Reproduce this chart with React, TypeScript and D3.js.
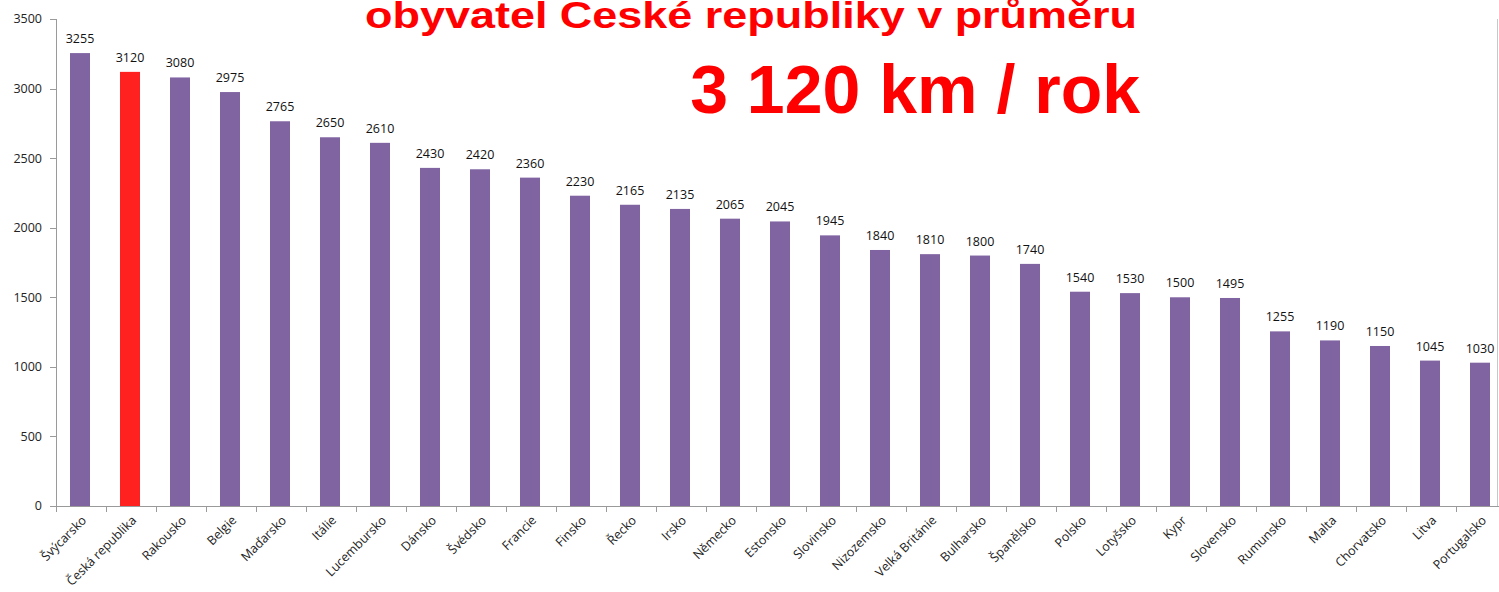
import React from "react";
import * as d3 from "d3";

const categories = [
  "Švýcarsko", "Česká republika", "Rakousko", "Belgie", "Maďarsko", "Itálie",
  "Lucembursko", "Dánsko", "Švédsko", "Francie", "Finsko", "Řecko", "Irsko",
  "Německo", "Estonsko", "Slovinsko", "Nizozemsko", "Velká Británie", "Bulharsko",
  "Španělsko", "Polsko", "Lotyšsko", "Kypr", "Slovensko", "Rumunsko", "Malta",
  "Chorvatsko", "Litva", "Portugalsko",
];
const values = [
  3255, 3120, 3080, 2975, 2765, 2650, 2610, 2430, 2420, 2360, 2230, 2165, 2135,
  2065, 2045, 1945, 1840, 1810, 1800, 1740, 1540, 1530, 1500, 1495, 1255, 1190,
  1150, 1045, 1030,
];
const highlight = "Česká republika";
const yTicks = [0, 500, 1000, 1500, 2000, 2500, 3000, 3500];
const titleLine1 = "obyvatel České republiky v průměru";
const titleLine2 = "3 120 km / rok";

const W = 1499;
const H = 592;
const x0 = 56;
const x1 = 1506;
const yBottom = 506;
const yTop = 19;

export default function App() {
  const x = d3.scaleBand<string>().domain(categories).range([x0, x1]).paddingInner(0.6).paddingOuter(0.3);
  const y = d3.scaleLinear().domain([0, 3500]).range([yBottom, yTop]);
  const step = x.step();
  const axisColor = "#9a9a9a";
  const font = "'Open Sans', 'DejaVu Sans', sans-serif";

  return (
    <svg width={W} height={H} style={{ position: "absolute", left: 0, top: 0, background: "#fff" }}>
      {/* Title */}
      <text x={365} y={28} fill="#ff0000" fontFamily="'Liberation Sans', Arial, sans-serif" fontWeight="bold" fontSize={37}
        textLength={772} lengthAdjust="spacingAndGlyphs">{titleLine1}</text>
      <text x={1140} y={113} fill="#ff0000" textAnchor="end" fontFamily="'Liberation Sans', Arial, sans-serif" fontWeight="bold" fontSize={68}>{titleLine2}</text>

      {/* Y axis */}
      <line x1={x0 + 0.5} x2={x0 + 0.5} y1={yTop} y2={yBottom} stroke={axisColor} />
      {yTicks.map((t) => (
        <g key={t}>
          <line x1={x0 - 6} x2={x0} y1={Math.round(y(t)) + 0.5} y2={Math.round(y(t)) + 0.5} stroke={axisColor} />
          <text x={x0 - 14} y={y(t)} dy="0.35em" textAnchor="end" fontFamily={font} fontSize={12.5} fill="#222">{t}</text>
        </g>
      ))}

      {/* Bars */}
      {categories.map((c, i) => (
        <rect key={c} x={(x(c) as number) - 1} y={y(values[i])} width={x.bandwidth()} height={yBottom - y(values[i])}
          fill={c === highlight ? "#ff2020" : "#8064a2"} />
      ))}

      {/* Value labels */}
      {categories.map((c, i) => (
        <text key={c} x={(x(c) as number) - 1 + x.bandwidth() / 2} y={y(values[i]) - 10} textAnchor="middle"
          fontFamily={font} fontSize={12.5} fill="#111">{values[i]}</text>
      ))}

      {/* X axis */}
      <line x1={x0} x2={x1} y1={yBottom + 0.5} y2={yBottom + 0.5} stroke={axisColor} />
      {d3.range(categories.length + 1).map((i) => (
        <line key={i} x1={x0 + i * step + 0.5} x2={x0 + i * step + 0.5} y1={yBottom} y2={yBottom + 6} stroke={axisColor} />
      ))}
      <line x1={1497.5} x2={1497.5} y1={yTop} y2={yBottom} stroke="#c8c8c8" />

      {/* X labels */}
      {categories.map((c) => {
        const cx = (x(c) as number) - 1 + x.bandwidth() / 2 + 4;
        const cy = yBottom + 12;
        return (
          <text key={c} transform={`translate(${cx},${cy}) rotate(-45)`} textAnchor="end" dy="0.35em"
            fontFamily={font} fontSize={12.5} fill="#222">{c}</text>
        );
      })}
    </svg>
  );
}
